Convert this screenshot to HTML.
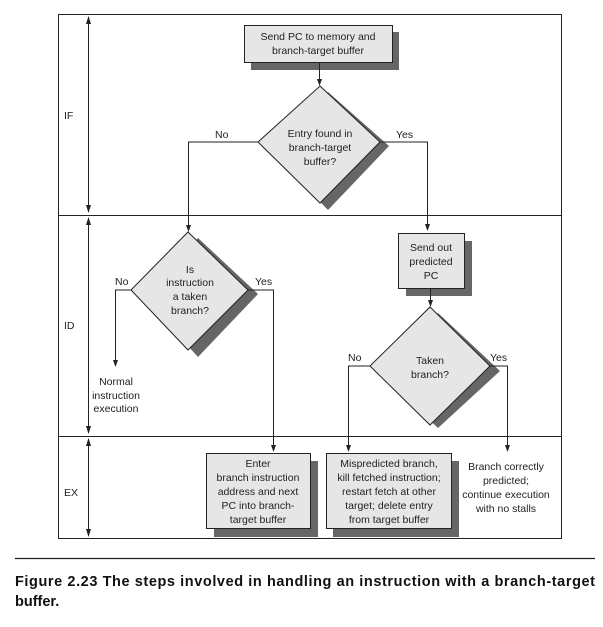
<!DOCTYPE html>
<html><head><style>
html,body{margin:0;padding:0;background:#fff;}
svg{display:block;}
text{font-family:"Liberation Sans",sans-serif;font-size:10.5px;fill:#222;}
.c{text-anchor:middle;}
.cap{font-size:14.5px;font-weight:bold;fill:#111;}
</style></head><body>
<svg width="603" height="627" viewBox="0 0 603 627" xmlns="http://www.w3.org/2000/svg">
<g stroke="#222" fill="none" stroke-width="1">
<rect x="58.5" y="14.5" width="503" height="524"/>
<line x1="58" y1="215.5" x2="562" y2="215.5"/>
<line x1="58" y1="436.5" x2="562" y2="436.5"/>
<line x1="88.5" y1="17" x2="88.5" y2="212"/>
<line x1="88.5" y1="218" x2="88.5" y2="433"/>
<line x1="88.5" y1="439" x2="88.5" y2="536"/>
</g>
<g fill="#222">
<polygon points="86,24 91,24 88.5,16"/>
<polygon points="86,205 91,205 88.5,213"/>
<polygon points="86,225 91,225 88.5,217"/>
<polygon points="86,426 91,426 88.5,434"/>
<polygon points="86,446 91,446 88.5,438"/>
<polygon points="86,529 91,529 88.5,537"/>
<!-- flow arrows -->
<polygon points="317,79 322,79 319.5,86"/>
<polygon points="186,225 191,225 188.5,232"/>
<polygon points="425,224 430,224 427.5,231"/>
<polygon points="113,360 118,360 115.5,367"/>
<polygon points="271,445 276,445 273.5,452"/>
<polygon points="428,300 433,300 430.5,307"/>
<polygon points="346,445 351,445 348.5,452"/>
<polygon points="505,445 510,445 507.5,452"/>
</g>
<text x="64" y="119">IF</text>
<text x="64" y="329">ID</text>
<text x="64" y="496">EX</text>

<rect x="251" y="32" width="148" height="38" fill="#666"/>
<rect x="244.5" y="25.5" width="148" height="37" fill="#e6e6e6" stroke="#222"/>
<text class="c" x="318" y="40">Send PC to memory and</text>
<text class="c" x="318" y="54">branch-target buffer</text>
<line x1="319.5" y1="63" x2="319.5" y2="80" stroke="#222"/>

<polygon points="328,92 389,146 328,210 266,146" fill="#666"/>
<polygon points="320,86 380,142 320,203 258,142" fill="#e6e6e6" stroke="#222"/>
<text class="c" x="320" y="137">Entry found in</text>
<text class="c" x="320" y="151">branch-target</text>
<text class="c" x="320" y="165">buffer?</text>
<text x="215" y="138">No</text>
<text x="396" y="138">Yes</text>
<polyline points="258,142 188.5,142 188.5,226" fill="none" stroke="#222"/>
<polyline points="380,142 427.5,142 427.5,225" fill="none" stroke="#222"/>

<polygon points="198,238 258,294 198,357 141,294" fill="#666"/>
<polygon points="188,232 248,290 188,350 131,290" fill="#e6e6e6" stroke="#222"/>
<text class="c" x="190" y="273">Is</text>
<text class="c" x="190" y="286">instruction</text>
<text class="c" x="190" y="300">a taken</text>
<text class="c" x="190" y="314">branch?</text>
<text x="115" y="285">No</text>
<text x="255" y="285">Yes</text>
<polyline points="131,290 115.5,290 115.5,361" fill="none" stroke="#222"/>
<polyline points="248,290 273.5,290 273.5,446" fill="none" stroke="#222"/>
<text class="c" x="116" y="385">Normal</text>
<text class="c" x="116" y="399">instruction</text>
<text class="c" x="116" y="412">execution</text>

<rect x="406" y="241" width="66" height="55" fill="#666"/>
<rect x="398.5" y="233.5" width="66" height="55" fill="#e6e6e6" stroke="#222"/>
<text class="c" x="431" y="251">Send out</text>
<text class="c" x="431" y="265">predicted</text>
<text class="c" x="431" y="279">PC</text>
<line x1="430.5" y1="289" x2="430.5" y2="301" stroke="#222"/>

<polygon points="438,313 500,371 438,428 377,371" fill="#666"/>
<polygon points="430,307 490,366 430,425 370,366" fill="#e6e6e6" stroke="#222"/>
<text class="c" x="430" y="364">Taken</text>
<text class="c" x="430" y="378">branch?</text>
<text x="348" y="361">No</text>
<text x="490" y="361">Yes</text>
<polyline points="370,366 348.5,366 348.5,446" fill="none" stroke="#222"/>
<polyline points="490,366 507.5,366 507.5,446" fill="none" stroke="#222"/>

<rect x="214" y="461" width="104" height="76" fill="#666"/>
<rect x="206.5" y="453.5" width="104" height="75" fill="#e6e6e6" stroke="#222"/>
<text class="c" x="258" y="467">Enter</text>
<text class="c" x="258" y="481">branch instruction</text>
<text class="c" x="258" y="495">address and next</text>
<text class="c" x="258" y="509">PC into branch-</text>
<text class="c" x="258" y="523">target buffer</text>

<rect x="333" y="461" width="126" height="76" fill="#666"/>
<rect x="326.5" y="453.5" width="125" height="75" fill="#e6e6e6" stroke="#222"/>
<text class="c" x="389" y="467">Mispredicted branch,</text>
<text class="c" x="389" y="481">kill fetched instruction;</text>
<text class="c" x="389" y="495">restart fetch at other</text>
<text class="c" x="389" y="509">target; delete entry</text>
<text class="c" x="389" y="523">from target buffer</text>

<text class="c" x="506" y="470">Branch correctly</text>
<text class="c" x="506" y="484">predicted;</text>
<text class="c" x="506" y="498">continue execution</text>
<text class="c" x="506" y="512">with no stalls</text>

<line x1="15" y1="558.5" x2="595" y2="558.5" stroke="#222" stroke-width="1.2"/>
<text class="cap" x="15" y="586" textLength="580" lengthAdjust="spacing">Figure 2.23 The steps involved in handling an instruction with a branch-target</text>
<text class="cap" x="15" y="606">buffer.</text>
</svg>
</body></html>
